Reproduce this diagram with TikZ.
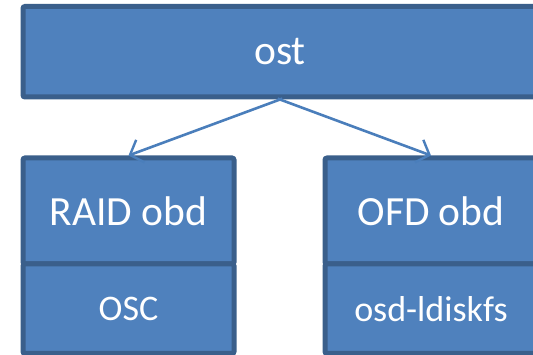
\documentclass[tikz,border=0pt]{standalone}
\usepackage{fontspec}
\setmainfont{Carlito}
\usetikzlibrary{arrows.meta}
\definecolor{boxfill}{HTML}{4F81BD}
\definecolor{boxline}{HTML}{3A5F8B}
\definecolor{arrowcol}{HTML}{4A7EBB}
\tikzset{
  layer/.style={draw=boxline, fill=boxfill, line width=5pt, rounded corners=2pt,
    text=white, inner sep=0pt, outer sep=2.5pt},
  bigtext/.style={font=\fontsize{41.5}{48}\selectfont},
  smalltext/.style={font=\fontsize{36}{42}\selectfont},
  link/.style={draw=arrowcol, line width=2.6pt,
    -{Straight Barb[length=11pt,width=24pt,line width=2.4pt]}},
}
\begin{document}
\begin{tikzpicture}[x=1pt,y=-1pt]
  \useasboundingbox (0,0) rectangle (533,355);
  \clip (0,0) rectangle (533,355);
  % top layer
  \node[layer, bigtext, minimum width=514pt, minimum height=90.5pt] (ost) at (280,51.75) {ost};
  % left stack
  \node[layer, bigtext, minimum width=211pt, minimum height=106pt] (raid) at (128.5,211) {RAID obd};
  \node[layer, smalltext, minimum width=211pt, minimum height=89.5pt] (osc) at (128.5,308.75) {OSC};
  % right stack
  \node[layer, bigtext, minimum width=212pt, minimum height=106pt] (ofd) at (431,211) {OFD obd};
  \node[layer, smalltext, minimum width=212pt, minimum height=89.5pt] (osd) at (431,308.75) {osd-ldiskfs};
  % connectors
  \draw[link, shorten <=-2.5pt] (ost.south) -- (raid.north);
  \draw[link, shorten <=-2.5pt] (ost.south) -- (ofd.north);
\end{tikzpicture}
\end{document}
